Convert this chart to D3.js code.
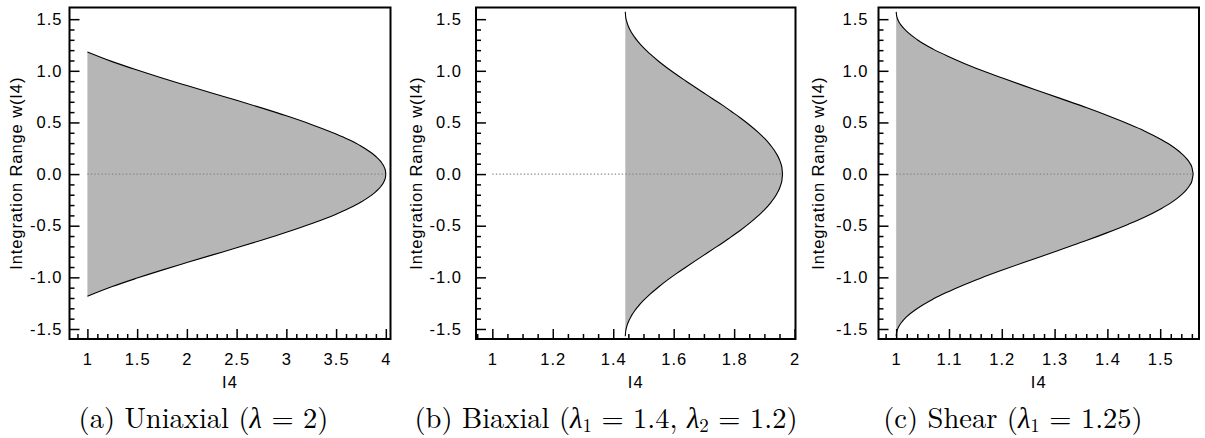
<!DOCTYPE html>
<html>
<head>
<meta charset="utf-8">
<script src="https://cdn.jsdelivr.net/npm/d3@7/dist/d3.min.js"></script>
<style>
    body { margin: 0; background: #fff; }
    svg { display: block; }
</style>
</head>
<body>
<svg id="mainSvg" width="1205" height="438"></svg>
<script>
// upper bound w(I4) of the integration range, the lower bound is -w(I4)
let uniaxialI4 = [1, 1.25, 1.5, 1.75, 2, 2.25, 2.5, 2.75, 3, 3.25, 3.5, 3.625, 3.75, 3.85, 3.9, 3.95, 3.98, 3.99, 3.995, 4];
let uniaxialW = [1.183, 1.089, 1.007, 0.930, 0.857, 0.785, 0.714, 0.641, 0.564, 0.481, 0.388, 0.334, 0.271, 0.209, 0.170, 0.120, 0.076, 0.053, 0.038, 0];

let biaxialI4 = [1.44, 1.441, 1.445, 1.45, 1.46, 1.47, 1.48, 1.5, 1.52, 1.55, 1.58, 1.61, 1.64, 1.67, 1.7, 1.73, 1.76, 1.79, 1.82, 1.85, 1.88, 1.9, 1.92, 1.94, 1.95, 1.955, 1.958, 1.96];
let biaxialW = [1.571, 1.527, 1.473, 1.432, 1.373, 1.328, 1.290, 1.224, 1.168, 1.093, 1.025, 0.962, 0.902, 0.843, 0.785, 0.727, 0.670, 0.608, 0.546, 0.478, 0.403, 0.347, 0.281, 0.197, 0.139, 0.098, 0.062, 0];

let shearI4 = [1, 1.001, 1.005, 1.01, 1.02, 1.04, 1.07, 1.1, 1.13, 1.16, 1.2, 1.24, 1.28, 1.32, 1.36, 1.4, 1.44, 1.47, 1.5, 1.52, 1.54, 1.55, 1.556, 1.56, 1.5625];
let shearW = [1.571, 1.529, 1.476, 1.437, 1.381, 1.301, 1.210, 1.136, 1.069, 1.008, 0.932, 0.859, 0.788, 0.716, 0.644, 0.567, 0.485, 0.418, 0.340, 0.279, 0.201, 0.150, 0.108, 0.067, 0];

// dotted zero line, from I4 = 1 to the tip
let zeroUniaxial = [1, 4];
let zeroBiaxial = [1, 1.96];
let zeroShear = [1, 1.5625];

// ticks
let yMajor = [-1.5, -1.0, -0.5, 0.0, 0.5, 1.0, 1.5];
let yTickLabels = ["-1.5", "-1.0", "-0.5", "0.0", "0.5", "1.0", "1.5"];
let xMajorUniaxial = [1, 1.5, 2, 2.5, 3, 3.5, 4];
let xLabelsUniaxial = ["1", "1.5", "2", "2.5", "3", "3.5", "4"];
let xMajorBiaxial = [1, 1.2, 1.4, 1.6, 1.8, 2];
let xLabelsBiaxial = ["1", "1.2", "1.4", "1.6", "1.8", "2"];
let xMajorShear = [1, 1.1, 1.2, 1.3, 1.4, 1.5];
let xLabelsShear = ["1", "1.1", "1.2", "1.3", "1.4", "1.5"];

let xLabel = "I4";
let yLabel = "Integration Range w(I4)";

// captions: plain text pieces, "L" = lambda, "L1"/"L2" = lambda with subscript
let captionUniaxial = ["(a) Uniaxial (", "L", " = 2)"];
let captionBiaxial = ["(b) Biaxial (", "L1", " = 1.4, ", "L2", " = 1.2)"];
let captionShear = ["(c) Shear (", "L1", " = 1.25)"];

let panels = [
    { i4: uniaxialI4, w: uniaxialW, zero: zeroUniaxial, xMajor: xMajorUniaxial, xLabels: xLabelsUniaxial,
      xStep: 0.1, xDomain: [0.82, 4.047], left: 69.5, right: 390.5, yPad: 7, yTitle: 48,
      caption: captionUniaxial, capX: 203.5 },
    { i4: biaxialI4, w: biaxialW, zero: zeroBiaxial, xMajor: xMajorBiaxial, xLabels: xLabelsBiaxial,
      xStep: 0.05, xDomain: [0.946, 2.003], left: 476, right: 795.5, yPad: 14, yTitle: 54.5,
      caption: captionBiaxial, capX: 606 },
    { i4: shearI4, w: shearW, zero: zeroShear, xMajor: xMajorShear, xLabels: xLabelsShear,
      xStep: 0.02, xDomain: [0.9665, 1.5735], left: 878.5, right: 1199, yPad: 10, yTitle: 55,
      caption: captionShear, capX: 1013 },
];

let plotTop = 7.5, plotBottom = 339;
let sansFont = "'Liberation Sans', Arial, Helvetica, sans-serif";
let svg = d3.select("#mainSvg");

let minorTicks = function (domain, step) {
    let out = [];
    let start = Math.ceil(domain[0] / step - 1e-6);
    let end = Math.floor(domain[1] / step + 1e-6);
    for (let k = start; k <= end; k++) out.push(+(k * step).toFixed(4));
    return out;
};

panels.forEach(function (p) {
    let g = svg.append("g");
    let x = d3.scaleLinear().domain(p.xDomain).range([p.left, p.right]);
    let y = d3.scaleLinear().domain([-1.597, 1.613]).range([plotBottom, plotTop]);

    let data = p.i4.map((v, i) => ({ i4: v, w: p.w[i] }));

    // shaded range
    g.append("path")
        .datum(data)
        .attr("fill", "#b6b6b6")
        .attr("d", d3.area()
            .x((d) => x(d.i4))
            .y0((d) => y(-d.w))
            .y1((d) => y(d.w))
            .curve(d3.curveMonotoneX));

    // zero line
    g.append("line")
        .attr("x1", x(p.zero[0]))
        .attr("x2", x(p.zero[1]))
        .attr("y1", y(0))
        .attr("y2", y(0))
        .attr("stroke", "#858585")
        .attr("stroke-width", 1.3)
        .attr("stroke-dasharray", "1.3,2.2");

    // boundary curves
    let line = d3.line().x((d) => x(d.i4)).curve(d3.curveMonotoneX);
    g.append("path").datum(data)
        .attr("fill", "none").attr("stroke", "black").attr("stroke-width", 1.1)
        .attr("d", line.y((d) => y(d.w)));
    g.append("path").datum(data)
        .attr("fill", "none").attr("stroke", "black").attr("stroke-width", 1.1)
        .attr("d", line.y((d) => y(-d.w)));

    // axes, ticks pointing inwards
    let yMinor = minorTicks([-1.55, 1.55], 0.1).filter((v) => yMajor.indexOf(v) < 0);
    let xMinor = minorTicks(p.xDomain, p.xStep).filter((v) => !p.xMajor.some((m) => Math.abs(m - v) < 1e-6));

    g.append("g").attr("transform", `translate(${p.left},0)`)
        .call(d3.axisLeft(y).tickValues(yMajor).tickSize(-10).tickPadding(p.yPad)
            .tickFormat((d, i) => yTickLabels[i]));
    g.append("g").attr("transform", `translate(${p.left},0)`)
        .call(d3.axisLeft(y).tickValues(yMinor).tickSize(-5).tickFormat(""));
    g.append("g").attr("transform", `translate(0,${plotBottom})`)
        .call(d3.axisBottom(x).tickValues(p.xMajor).tickSize(-10).tickPadding(14)
            .tickFormat((d, i) => p.xLabels[i]));
    g.append("g").attr("transform", `translate(0,${plotBottom})`)
        .call(d3.axisBottom(x).tickValues(xMinor).tickSize(-5).tickFormat(""));

    g.selectAll(".domain").remove();
    g.selectAll(".tick line").attr("stroke", "black").attr("stroke-width", 1.5);
    g.selectAll(".tick text")
        .attr("fill", "black")
        .style("font-family", sansFont)
        .style("font-size", "16.5px")
        .style("letter-spacing", "1px");

    // frame
    g.append("rect")
        .attr("x", p.left).attr("y", plotTop)
        .attr("width", p.right - p.left).attr("height", plotBottom - plotTop)
        .attr("fill", "none").attr("stroke", "black").attr("stroke-width", 2);

    // axis titles
    g.append("text")
        .attr("x", (p.left + p.right) / 2).attr("y", 388)
        .attr("text-anchor", "middle")
        .style("font-family", sansFont)
        .style("font-size", "16.5px")
        .style("letter-spacing", "1px")
        .text(xLabel);
    g.append("text")
        .attr("transform", `translate(${p.left - p.yTitle},${(plotTop + plotBottom) / 2}) rotate(-90)`)
        .attr("text-anchor", "middle")
        .style("font-family", sansFont)
        .style("font-size", "16.5px")
        .style("letter-spacing", "0.9px")
        .text(yLabel);

    // caption
    let cap = g.append("text")
        .attr("x", p.capX).attr("y", 428)
        .attr("text-anchor", "middle")
        .style("font-family", "'Latin Modern Roman', 'CMU Serif', 'Liberation Serif', serif")
        .style("font-size", "28.5px");
    let shift = 0;
    p.caption.forEach(function (piece) {
        if (piece[0] === "L") {
            cap.append("tspan").attr("dy", -shift).style("font-style", "italic").text("\u03bb");
            shift = 0;
            if (piece.length > 1) {
                cap.append("tspan").attr("dy", 4).style("font-size", "19px").text(piece[1]);
                shift = 4;
            }
        } else {
            cap.append("tspan").attr("dy", -shift).text(piece);
            shift = 0;
        }
    });
});
</script>
</body>
</html>
